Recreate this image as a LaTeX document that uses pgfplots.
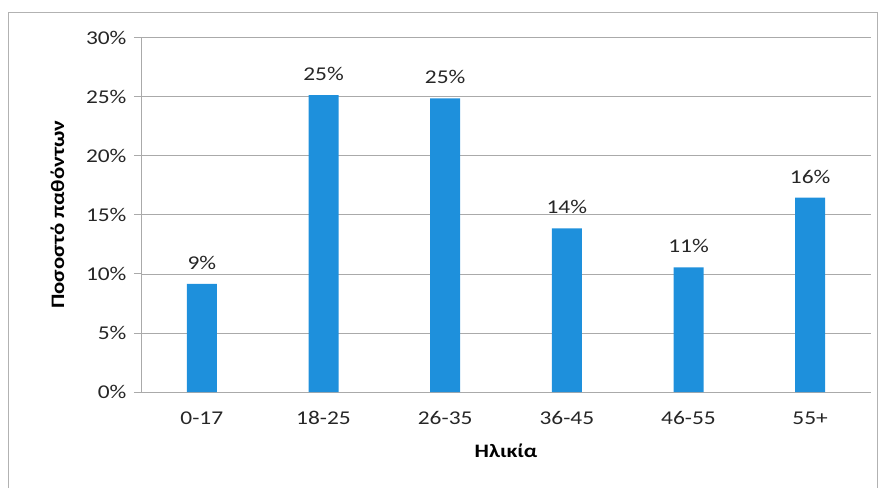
\documentclass[border=0pt]{standalone}
\usepackage{pgfplots}
\pgfplotsset{compat=1.18}
\usepackage{fontspec}
\setmainfont{Carlito}
\newfontfamily\wide[FakeStretch=1.2]{Carlito}
\definecolor{barblue}{RGB}{30,144,220}
\definecolor{gridgray}{RGB}{170,170,170}
\begin{document}
\begin{tikzpicture}[x=1pt,y=1pt]
\path[use as bounding box] (0,0) rectangle (883,488);
\draw[gray!60, line width=0.8pt] (8,0) -- (8,476) -- (877,476) -- (877,0);
\begin{axis}[
  at={(141pt,96pt)}, anchor=south west,
  scale only axis, width=730pt, height=354.5pt,
  xmin=-0.5, xmax=5.5, ymin=0, ymax=30,
  xtick=data,
  xticklabels={0-17,18-25,26-35,36-45,46-55,55+},
  ytick={0,5,...,30},
  yticklabel={\pgfmathprintnumber{\tick}\%},
  /pgf/number format/assume math mode=true,
  ymajorgrids, grid style={gridgray, line width=0.6pt},
  axis line style={gridgray, line width=0.8pt},
  axis x line*=bottom, axis y line*=left,
  x axis line style={-}, y axis line style={-},
  major tick length=7pt,
  xtick style={draw=none},
  ytick style={gridgray, line width=0.8pt},
  tick align=outside,
  ticklabel style={font=\wide\fontsize{19.5}{22}\selectfont, text=black!85},
  yticklabel style={xshift=-4pt},
  xticklabel style={yshift=-9pt},
  xlabel={\bfseries Ηλικία},
  ylabel={\bfseries Ποσοστό παθόντων},
  label style={font=\wide\fontsize{19}{22}\selectfont\bfseries},
  xlabel style={yshift=-12pt},
  ylabel style={yshift=15pt},
  ybar, bar width=30pt,
  nodes near coords={\pgfmathprintnumber[fixed,precision=0]{\pgfplotspointmeta}\%},
  nodes near coords style={font=\wide\fontsize{19.5}{22}\selectfont, text=black!85, yshift=11pt, /pgf/number format/assume math mode=true},
]
\addplot[fill=barblue, draw=none] coordinates {(0,9.16) (1,25.13) (2,24.85) (3,13.85) (4,10.55) (5,16.44)};
\end{axis}
\end{tikzpicture}
\end{document}
